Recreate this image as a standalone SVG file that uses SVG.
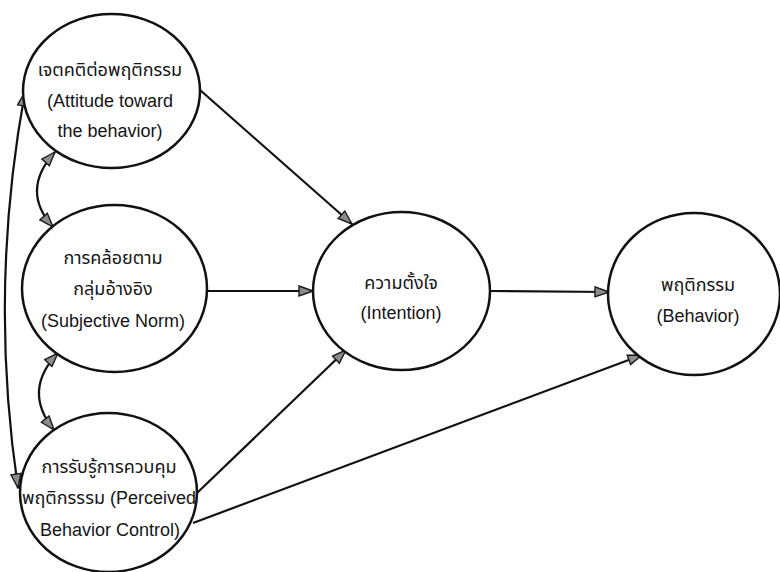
<svg xmlns="http://www.w3.org/2000/svg" width="780" height="572" viewBox="0 0 780 572">
<style>
.bg{fill:#ffffff}
.node ellipse{fill:#ffffff;stroke:#111;stroke-width:2.5}
.node text{font-family:"Liberation Sans","Noto Sans Thai","DejaVu Sans",sans-serif;font-size:18px;fill:#151515;text-anchor:middle}
.edge{fill:none;stroke:#111;stroke-width:2.2}
</style>
<defs>
<marker id="arr" viewBox="0 0 16 12" markerWidth="16" markerHeight="12" markerUnits="userSpaceOnUse" refX="15" refY="6" orient="auto-start-reverse">
<path d="M1,1 L15,6 L1,11 z" fill="#8c8c8c" stroke="#1a1a1a" stroke-width="1.4" stroke-linejoin="miter"/>
</marker>
</defs>
<rect class="bg" x="0" y="0" width="780" height="572"/>
<g id="connectors">
<line class="edge" x1="200" y1="90" x2="352" y2="224" marker-end="url(#arr)"/>
<line class="edge" x1="207" y1="291" x2="313" y2="291" marker-end="url(#arr)"/>
<line class="edge" x1="197" y1="493" x2="346" y2="350" marker-end="url(#arr)"/>
<line class="edge" x1="193" y1="523" x2="642" y2="355" marker-end="url(#arr)"/>
<line class="edge" x1="490" y1="291" x2="609" y2="292" marker-end="url(#arr)"/>
<path class="edge" d="M55,152 Q20,190.5 53,227" marker-start="url(#arr)" marker-end="url(#arr)"/>
<path class="edge" d="M58,353 Q22,390.5 54,430" marker-start="url(#arr)" marker-end="url(#arr)"/>
<path class="edge" d="M25,92 Q-11.5,290 18,488" marker-start="url(#arr)" marker-end="url(#arr)"/>
</g>
<g class="node" id="attitude">
<ellipse cx="111.5" cy="91" rx="88.5" ry="77"/>
<text x="110" y="76">เจตคติต่อพฤติกรรม</text>
<text x="110" y="107">(Attitude toward</text>
<text x="110" y="137">the behavior)</text>
</g>
<g class="node" id="subjective-norm">
<ellipse cx="114.5" cy="288.5" rx="92.5" ry="83.5"/>
<text x="113" y="264">การคล้อยตาม</text>
<text x="113" y="295">กลุ่มอ้างอิง</text>
<text x="113" y="327">(Subjective Norm)</text>
</g>
<g class="node" id="perceived-control">
<ellipse cx="108.5" cy="492.5" rx="88.5" ry="79.5"/>
<text x="109" y="473">การรับรู้การควบคุม</text>
<text x="109" y="504">พฤติกรรรม (Perceived</text>
<text x="110" y="536">Behavior Control)</text>
</g>
<g class="node" id="intention">
<ellipse cx="401.5" cy="291" rx="88.5" ry="79"/>
<text x="401" y="289">ความตั้งใจ</text>
<text x="401" y="319">(Intention)</text>
</g>
<g class="node" id="behavior">
<ellipse cx="694" cy="294" rx="86" ry="81"/>
<text x="698" y="291">พฤติกรรม</text>
<text x="698" y="322">(Behavior)</text>
</g>
</svg>
